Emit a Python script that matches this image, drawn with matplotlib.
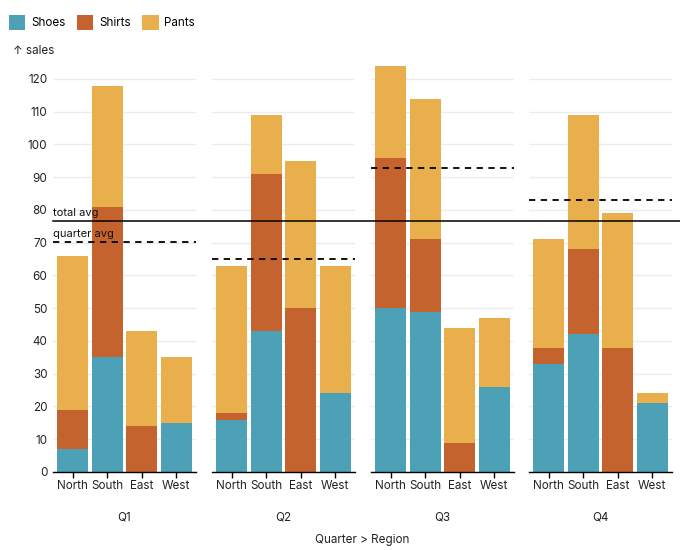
import matplotlib
matplotlib.use("Agg")
import matplotlib.pyplot as plt
import matplotlib.transforms as mtransforms
from matplotlib.patches import Patch
from matplotlib.lines import Line2D
import numpy as np

plt.rcParams['font.family'] = ['Inter', 'DejaVu Sans']

quarters = ["Q1", "Q2", "Q3", "Q4"]
regions = ["North", "South", "East", "West"]
products = ["Shoes", "Shirts", "Pants"]
colors = ["#4ca1b6", "#c5632f", "#e8af4c"]

# sales[quarter] -> list per region
shoes = [[7, 35, 0, 15], [16, 43, 0, 24], [50, 49, 0, 26], [33, 42, 0, 21]]
shirts = [[12, 46, 14, 0], [2, 48, 50, 0], [46, 22, 9, 0], [5, 26, 38, 0]]
pants = [[47, 37, 29, 20], [45, 18, 45, 39], [28, 43, 35, 21], [33, 41, 41, 3]]
quarter_avg = [70.2, 65.0, 92.8, 83.0]
total_avg = 76.6
yticks = [0, 10, 20, 30, 40, 50, 60, 70, 80, 90, 100, 110, 120]

W, H = 680, 550
fig = plt.figure(figsize=(W / 100, H / 100), dpi=100)

panel_left = [53, 212, 371, 529]
panel_w = 143
top_px, bot_px = 62.6, 472
ymax = 125
fs = 8.4

series = [shoes, shirts, pants]
axes = []
for qi, q in enumerate(quarters):
    ax = fig.add_axes([panel_left[qi] / W, 1 - bot_px / H, panel_w / W, (bot_px - top_px) / H])
    ax.patch.set_visible(False)
    axes.append(ax)
    x = np.arange(len(regions))
    bottom = np.zeros(len(regions))
    for si, s in enumerate(series):
        vals = np.array(s[qi], dtype=float)
        ax.bar(x, vals, bottom=bottom, width=0.9, color=colors[si], zorder=2)
        bottom += vals
    ax.set_xlim(-0.57, 3.57)
    ax.set_ylim(0, ymax)
    ax.set_yticks(yticks)
    ax.grid(axis='y', color='#ececec', linewidth=1, zorder=0)
    ax.set_axisbelow(True)
    for sp in ["top", "right", "left"]:
        ax.spines[sp].set_visible(False)
    ax.spines["bottom"].set_color("black")
    ax.spines["bottom"].set_linewidth(1)
    ax.spines["bottom"].set_zorder(3)
    ax.set_xticks(x)
    ax.set_xticklabels(regions, fontsize=fs, color="#222222")
    ax.tick_params(axis='x', length=4, width=1, color='black', pad=2)
    ax.tick_params(axis='y', length=0, pad=4, labelsize=fs, labelcolor="#222222")
    if qi > 0:
        ax.tick_params(axis='y', labelleft=False)
    ax.axhline(quarter_avg[qi], color='black', linestyle=(0, (3.5, 3)), linewidth=1.3, zorder=4)
    ax.set_xlabel(q, fontsize=fs, color="#222222", labelpad=14)

# total avg line across the whole figure width, drawn above all panels
ax0 = axes[0]
trans = mtransforms.blended_transform_factory(fig.transFigure, ax0.transData)
fig.add_artist(Line2D([panel_left[0] / W, 1.0], [total_avg, total_avg], transform=trans,
                      color='black', linewidth=1.1, zorder=5))
ax0.text(0.0, total_avg + 0.9, "total avg",
         transform=mtransforms.blended_transform_factory(ax0.transAxes, ax0.transData),
         fontsize=8.0, color="#111111", va='bottom', ha='left', zorder=6)
ax0.text(0.0, quarter_avg[0] + 0.9, "quarter avg",
         transform=mtransforms.blended_transform_factory(ax0.transAxes, ax0.transData),
         fontsize=8.0, color="#111111", va='bottom', ha='left', zorder=6)

fig.text(13 / W, 1 - 51 / H, "↑ sales", fontsize=fs, color="#222222", va='center', ha='left')
fig.text(362 / W, 1 - 540 / H, "Quarter > Region", fontsize=fs, color="#222222", va='center', ha='center')

handles = [Patch(facecolor=c, edgecolor='none') for c in colors]
fig.legend(handles, products, loc='upper left', bbox_to_anchor=(4 / W, 1 - 10 / H), ncol=3, frameon=False,
           fontsize=fs, handlelength=1.4, handleheight=1.6, handletextpad=0.5, columnspacing=1.0,
           borderaxespad=0)

fig.savefig("out.png", dpi=100)
